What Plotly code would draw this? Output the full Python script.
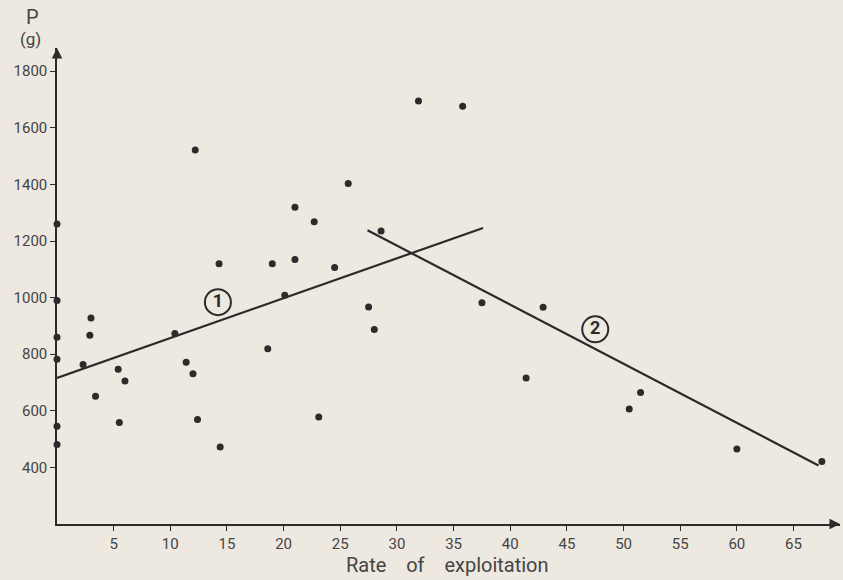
import plotly.graph_objects as go

# Body weight P (g) against rate of exploitation
rate = [0, 0, 0, 0, 0, 0,
        2.3, 3.0, 2.9, 3.4, 5.4, 6.0, 5.5, 10.4, 11.4, 12.0, 12.4, 14.4,
        18.6, 20.1, 23.1, 12.2, 14.3, 19.0, 21.0, 22.7, 21.0, 24.5,
        31.9, 35.8, 25.7, 28.6, 27.5, 28.0, 37.5, 42.9, 41.4,
        51.5, 50.5, 60.0, 67.5]
weight = [1260, 990, 860, 782, 545, 481,
          764, 928, 867, 651, 747, 705, 559, 873, 772, 731, 569, 472,
          819, 1008, 578, 1522, 1120, 1120, 1319, 1268, 1135, 1106,
          1695, 1676, 1403, 1235, 967, 887, 982, 966, 716,
          665, 606, 465, 421]

# Fitted lines (end points)
line1_x = [0, 37.6]
line1_y = [716, 1246]
line2_x = [27.4, 67.2]
line2_y = [1238, 407]

# Line labels
label_x = [14.2, 47.5]
label_y = [984, 888]
label_text = ["<b>1</b>", "<b>2</b>"]

y_ticks = [400, 600, 800, 1000, 1200, 1400, 1600, 1800]
x_ticks = [5, 10, 15, 20, 25, 30, 35, 40, 45, 50, 55, 60, 65]

INK = "#2b2b2b"
TEXT = "#454545"
PAPER = "#ede8e0"
FONT = "Roboto"

fig = go.Figure()

fig.add_trace(go.Scatter(x=line1_x, y=line1_y, mode="lines",
                         line=dict(color=INK, width=2.2), cliponaxis=False))
fig.add_trace(go.Scatter(x=line2_x, y=line2_y, mode="lines",
                         line=dict(color=INK, width=2.2), cliponaxis=False))
fig.add_trace(go.Scatter(x=rate, y=weight, mode="markers",
                         marker=dict(color=INK, size=7), cliponaxis=False))
fig.add_trace(go.Scatter(x=label_x, y=label_y, mode="markers+text",
                         text=label_text, textposition="middle center",
                         textfont=dict(family=FONT, size=18, color=INK),
                         marker=dict(symbol="circle-open", size=26,
                                     color=INK, line=dict(width=2, color=INK)),
                         cliponaxis=False))

axis_common = dict(showgrid=False, zeroline=False, showline=True,
                   linecolor=INK, linewidth=1.5, ticks="outside",
                   ticklen=5, tickcolor=INK, tickwidth=1.2,
                   tickfont=dict(family=FONT, size=15, color=TEXT))

fig.update_layout(
    width=843, height=580,
    margin=dict(l=57, r=3, t=48, b=56),
    paper_bgcolor=PAPER, plot_bgcolor=PAPER,
    showlegend=False,
    xaxis=dict(range=[0, 69.1], tickvals=x_ticks, **axis_common),
    yaxis=dict(range=[200, 1882], tickvals=y_ticks, **axis_common),
)

# Axis arrowheads
fig.add_annotation(x=69.1, y=200, xref="x", yref="y", ax=-12, ay=0,
                   axref="pixel", ayref="pixel", text="", showarrow=True,
                   arrowhead=2, arrowsize=1.4, arrowwidth=1.5, arrowcolor=INK)
fig.add_annotation(x=0, y=1882, xref="x", yref="y", ax=0, ay=12,
                   axref="pixel", ayref="pixel", text="", showarrow=True,
                   arrowhead=2, arrowsize=1.4, arrowwidth=1.5, arrowcolor=INK)

# Axis titles, placed by pixel position in the 843x580 page
gap = "\u00a0" * 4
titles = [
    (32, 17, "P", 20),
    (30, 39, "(g)", 17),
    (447, 565, "Rate" + gap + "of" + gap + "exploitation", 20),
]
for px, py, txt, size in titles:
    fig.add_annotation(xref="paper", yref="paper",
                       x=(px - 57) / 783, y=(524 - py) / 476,
                       xanchor="center", yanchor="middle",
                       text=txt, showarrow=False,
                       font=dict(family=FONT, size=size, color=TEXT))

fig.write_html("out.html")
